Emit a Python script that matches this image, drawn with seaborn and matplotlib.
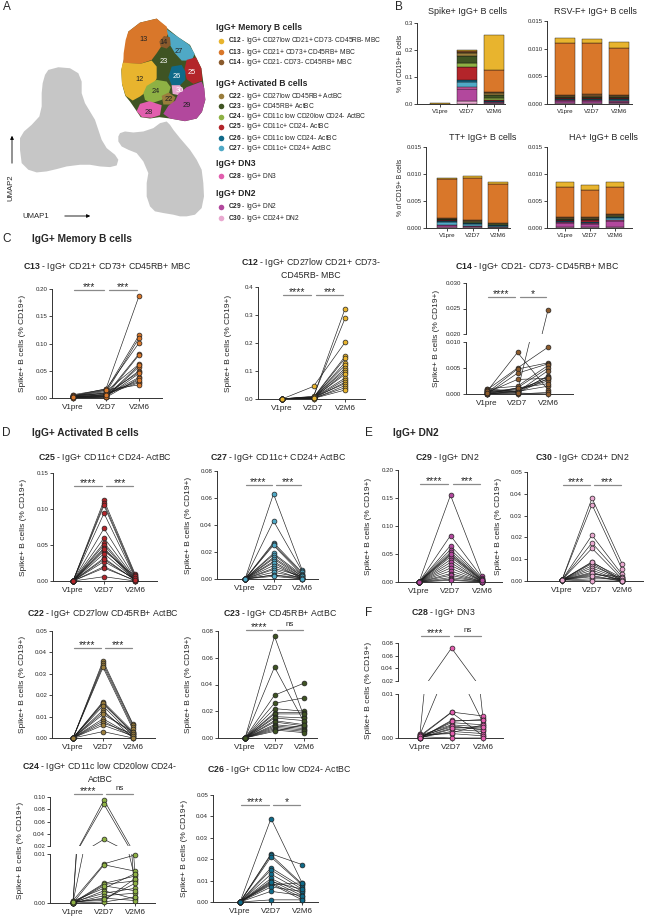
import numpy as np
import pandas as pd
import matplotlib
matplotlib.use("Agg")
import matplotlib.pyplot as plt
import seaborn as sns

W, H = 645, 919

# --- data ---
clusters = ["C12", "C13", "C14", "C22", "C23", "C24", "C25", "C26", "C27", "C28", "C29", "C30"]
cluster_colors = ["#E8B42E", "#D9772A", "#8A5A2C", "#9A7D3C", "#3F5423", "#8EB144",
                  "#B3252A", "#0F6A89", "#4FA9C6", "#E25EAE", "#B2489D", "#E9A9D0"]
cluster_desc = ["IgG+ CD27low CD21+ CD73- CD45RB- MBC", "IgG+ CD21+ CD73+ CD45RB+ MBC",
                "IgG+ CD21- CD73- CD45RB+ MBC", "IgG+ CD27low CD45RB+ ActBC",
                "IgG+ CD45RB+ ActBC", "IgG+ CD11c low CD20low CD24- ActBC",
                "IgG+ CD11c+ CD24- ActBC", "IgG+ CD11c low CD24- ActBC",
                "IgG+ CD11c+ CD24+ ActBC", "IgG+ DN3", "IgG+ DN2", "IgG+ CD24+ DN2"]
groups = ["IgG+ Memory B cells", "IgG+ Activated B cells", "IgG+ DN3", "IgG+ DN2"]
group_members = [["C12", "C13", "C14"], ["C22", "C23", "C24", "C25", "C26", "C27"], ["C28"], ["C29", "C30"]]
timepoints = ["V1pre", "V2D7", "V2M6"]

# stacked bars (% of CD19+), rows follow `clusters`, columns follow `timepoints`
spike_bars = [[0.0002, 0.004, 0.131], [0.0008, 0.005, 0.082], [0.0001, 0.004, 0.004],
              [0.0, 0.012, 0.006], [0.0001, 0.025, 0.012], [0.0001, 0.013, 0.006],
              [0.0, 0.048, 0.004], [0.0, 0.009, 0.004], [0.0001, 0.019, 0.002],
              [0.0002, 0.007, 0.001], [0.0002, 0.045, 0.003], [0.0002, 0.010, 0.002]]
rsv_bars = [[0.0008, 0.0008, 0.0011], [0.0095, 0.0092, 0.0085], [0.0002, 0.0003, 0.0002],
            [0.0001, 0.0002, 0.0001], [0.0002, 0.0002, 0.0002], [0.0001, 0.0001, 0.0001],
            [0.0001, 0.0001, 0.0001], [0.0001, 0.0001, 0.0002], [0.0001, 0.0001, 0.0002],
            [0.0001, 0.0001, 0.0001], [0.0005, 0.0005, 0.0003], [0.0001, 0.0001, 0.0001]]
tt_bars = [[0.0001, 0.0004, 0.0003], [0.0072, 0.0078, 0.0072], [0.0002, 0.0002, 0.0001],
           [0.0001, 0.0001, 0.0001], [0.0001, 0.0001, 0.0001], [0.0001, 0.0001, 0.0001],
           [0.0001, 0.0001, 0.0001], [0.0002, 0.0002, 0.0002], [0.0005, 0.0003, 0.0001],
           [0.0001, 0.0001, 0.0], [0.0004, 0.0002, 0.0001], [0.0001, 0.0001, 0.0001]]
ha_bars = [[0.0009, 0.0009, 0.0009], [0.0056, 0.0051, 0.0050], [0.0002, 0.0002, 0.0002],
           [0.0001, 0.0001, 0.0001], [0.0002, 0.0002, 0.0001], [0.0001, 0.0001, 0.0001],
           [0.0001, 0.0003, 0.0001], [0.0001, 0.0001, 0.0002], [0.0001, 0.0001, 0.0004],
           [0.0001, 0.0001, 0.0001], [0.0009, 0.0007, 0.0012], [0.0001, 0.0001, 0.0001]]

# paired donor values [V1pre, V2D7, V2M6]
c13 = [[0.004, 0.003, 0.002, 0.006, 0.001, 0.002, 0.003, 0.000, 0.001, 0.005, 0.002, 0.001, 0.003, 0.002, 0.004, 0.001, 0.000, 0.002],
       [0.017, 0.014, 0.010, 0.016, 0.006, 0.003, 0.012, 0.002, 0.004, 0.008, 0.005, 0.001, 0.009, 0.007, 0.015, 0.003, 0.002, 0.006],
       [0.187, 0.115, 0.110, 0.101, 0.081, 0.079, 0.062, 0.057, 0.050, 0.047, 0.038, 0.036, 0.030, 0.028, 0.024, 0.060, 0.045, 0.033]]
c12 = [[0.001, 0.0, 0.0, 0.001, 0.0, 0.0, 0.001, 0.0, 0.0, 0.0, 0.001, 0.0, 0.0, 0.0, 0.0, 0.001, 0.0, 0.0],
       [0.008, 0.010, 0.045, 0.006, 0.005, 0.004, 0.007, 0.003, 0.006, 0.002, 0.005, 0.004, 0.003, 0.002, 0.006, 0.001, 0.003, 0.002],
       [0.322, 0.288, 0.202, 0.152, 0.145, 0.130, 0.120, 0.110, 0.102, 0.095, 0.088, 0.075, 0.068, 0.060, 0.055, 0.048, 0.040, 0.032]]
c14 = [[0.001, 0.0005, 0.0008, 0.0002, 0.0, 0.0003, 0.001, 0.0, 0.0002, 0.0005, 0.0, 0.0007, 0.0001, 0.0003, 0.0, 0.0004, 0.0006, 0.0001],
       [0.0005, 0.008, 0.005, 0.0048, 0.004, 0.0028, 0.0015, 0.0012, 0.001, 0.0008, 0.0005, 0.0003, 0.0, 0.0002, 0.0006, 0.0011, 0.0004, 0.0002],
       [0.0247, 0.0008, 0.009, 0.006, 0.0058, 0.003, 0.0055, 0.005, 0.0028, 0.0025, 0.0015, 0.0035, 0.0003, 0.0, 0.0033, 0.002, 0.0045, 0.003]]
c25 = [[0.0, 0.0, 0.0, 0.0, 0.0, 0.0, 0.0, 0.0, 0.0, 0.0, 0.0, 0.0, 0.0, 0.0, 0.0, 0.0, 0.0, 0.0],
       [0.112, 0.108, 0.105, 0.094, 0.073, 0.060, 0.053, 0.050, 0.046, 0.042, 0.038, 0.032, 0.027, 0.020, 0.018, 0.006, 0.044, 0.030],
       [0.010, 0.008, 0.006, 0.005, 0.004, 0.003, 0.002, 0.001, 0.000, 0.007, 0.002, 0.001, 0.003, 0.000, 0.001, 0.000, 0.004, 0.002]]
c27 = [[0.0, 0.0, 0.0, 0.0, 0.0, 0.0, 0.0, 0.0, 0.0, 0.0, 0.0, 0.0, 0.0, 0.0, 0.0, 0.0, 0.0, 0.0],
       [0.063, 0.043, 0.027, 0.026, 0.025, 0.019, 0.018, 0.016, 0.015, 0.013, 0.012, 0.010, 0.008, 0.007, 0.005, 0.003, 0.003, 0.002],
       [0.007, 0.006, 0.005, 0.004, 0.003, 0.003, 0.002, 0.002, 0.001, 0.001, 0.000, 0.001, 0.002, 0.000, 0.001, 0.000, 0.001, 0.000]]
c22 = [[0.0, 0.0, 0.0, 0.0, 0.0, 0.0, 0.0, 0.0, 0.0, 0.0, 0.0, 0.0, 0.0, 0.0, 0.0, 0.0],
       [0.036, 0.035, 0.034, 0.033, 0.017, 0.016, 0.0165, 0.015, 0.013, 0.012, 0.011, 0.009, 0.008, 0.007, 0.006, 0.003],
       [0.0065, 0.006, 0.005, 0.004, 0.003, 0.0025, 0.002, 0.001, 0.000, 0.002, 0.003, 0.001, 0.0005, 0.002, 0.001, 0.000]]
c23 = [[0.0, 0.0, 0.0, 0.0, 0.0, 0.0, 0.0, 0.0, 0.0, 0.0, 0.0, 0.0, 0.0, 0.0, 0.0, 0.0, 0.0],
       [0.076, 0.053, 0.032, 0.026, 0.022, 0.019, 0.018, 0.016, 0.015, 0.013, 0.012, 0.010, 0.009, 0.008, 0.007, 0.006, 0.005],
       [0.016, 0.012, 0.041, 0.030, 0.020, 0.019, 0.018, 0.015, 0.013, 0.010, 0.009, 0.008, 0.007, 0.006, 0.005, 0.004, 0.010]]
c24 = [[0.0003, 0.0, 0.0002, 0.0005, 0.0, 0.0001, 0.0, 0.0004, 0.0, 0.0002, 0.0, 0.0001, 0.0003, 0.0, 0.0, 0.0002],
       [0.095, 0.088, 0.031, 0.008, 0.0078, 0.004, 0.0038, 0.003, 0.0025, 0.002, 0.0015, 0.001, 0.0005, 0.0002, 0.0035, 0.0008],
       [0.006, 0.0012, 0.005, 0.0098, 0.0065, 0.0055, 0.0045, 0.006, 0.0008, 0.003, 0.002, 0.0005, 0.005, 0.0012, 0.0025, 0.004]]
c26 = [[0.0, 0.0, 0.0, 0.0, 0.0, 0.0, 0.0, 0.0, 0.0, 0.0, 0.0, 0.0, 0.0, 0.0, 0.0, 0.0],
       [0.039, 0.0225, 0.022, 0.021, 0.016, 0.015, 0.013, 0.011, 0.010, 0.009, 0.0085, 0.008, 0.007, 0.005, 0.001, 0.0095],
       [0.009, 0.0175, 0.0085, 0.008, 0.007, 0.006, 0.005, 0.004, 0.003, 0.002, 0.001, 0.009, 0.005, 0.003, 0.001, 0.006]]
c29 = [[0.0, 0.0, 0.0, 0.0, 0.0, 0.0, 0.0, 0.0, 0.0, 0.0, 0.0, 0.0, 0.0, 0.0, 0.0, 0.0, 0.0, 0.0],
       [0.155, 0.083, 0.065, 0.058, 0.053, 0.048, 0.045, 0.040, 0.035, 0.030, 0.025, 0.020, 0.015, 0.012, 0.008, 0.005, 0.003, 0.050],
       [0.010, 0.008, 0.006, 0.005, 0.004, 0.003, 0.002, 0.001, 0.000, 0.002, 0.001, 0.000, 0.001, 0.000, 0.001, 0.000, 0.000, 0.003]]
c30 = [[0.0005, 0.0005, 0.0005, 0.0005, 0.0005, 0.0005, 0.0005, 0.0005, 0.0005, 0.0005, 0.0005, 0.0005, 0.0005, 0.0005, 0.0005, 0.0005, 0.0005, 0.0005],
       [0.038, 0.035, 0.021, 0.0175, 0.015, 0.0088, 0.008, 0.007, 0.006, 0.005, 0.004, 0.003, 0.002, 0.001, 0.000, 0.0085, 0.0035, 0.0025],
       [0.008, 0.0055, 0.003, 0.002, 0.001, 0.0005, 0.000, 0.001, 0.0005, 0.000, 0.0, 0.002, 0.000, 0.001, 0.000, 0.0015, 0.0005, 0.000]]
c28 = [[0.001, 0.0008, 0.0005, 0.0003, 0.0, 0.0002, 0.0006, 0.0004, 0.0, 0.0001, 0.0007, 0.0003, 0.0, 0.0002, 0.0005, 0.0001],
       [0.072, 0.018, 0.0059, 0.0058, 0.004, 0.0035, 0.003, 0.0025, 0.002, 0.0015, 0.001, 0.0, 0.0038, 0.0028, 0.0012, 0.0022],
       [0.0045, 0.0035, 0.005, 0.0005, 0.004, 0.003, 0.0025, 0.002, 0.0015, 0.001, 0.0005, 0.0, 0.0042, 0.0018, 0.003, 0.0025]]

# UMAP outlines (UMAP units)
umap_left = [(145, 210), (175, 202), (210, 205), (235, 220), (245, 245), (245, 280), (255, 310), (270, 335),
             (285, 360), (295, 390), (305, 420), (320, 445), (345, 465), (355, 480), (350, 497), (330, 502),
             (300, 500), (270, 495), (240, 495), (200, 500), (170, 508), (140, 515), (110, 518), (85, 510),
             (65, 490), (60, 450), (60, 415), (72, 395), (95, 375), (118, 350), (125, 320), (125, 280),
             (128, 250), (135, 225)]
umap_right = [(360, 400), (375, 395), (400, 398), (430, 395), (460, 385), (480, 370), (500, 365), (510, 375),
              (520, 390), (540, 415), (570, 450), (590, 480), (605, 510), (610, 550), (612, 590), (605, 625),
              (585, 645), (560, 650), (540, 650), (520, 645), (490, 640), (465, 635), (450, 620), (440, 590),
              (440, 550), (445, 520), (430, 485), (410, 460), (385, 450), (365, 440), (355, 425), (355, 410)]
umap_cap = [(385, 95), (420, 68), (470, 56), (505, 88), (535, 112), (570, 135), (588, 172), (604, 205),
            (612, 262), (616, 300), (606, 336), (590, 356), (555, 364), (510, 356), (478, 352), (450, 356),
            (422, 352), (410, 334), (390, 305), (376, 288), (366, 252), (364, 210), (372, 178), (376, 140)]
umap_clusters = {
    "C13": [(385, 95), (420, 68), (470, 56), (500, 80), (505, 100), (490, 130), (470, 160), (455, 180),
            (420, 192), (370, 190), (371, 160), (377, 120)],
    "C27": [(500, 88), (535, 112), (568, 135), (584, 162), (575, 182), (545, 182), (525, 160), (510, 135), (505, 110)],
    "C14": [(478, 125), (492, 108), (510, 112), (512, 135), (500, 146), (482, 140)],
    "C12": [(368, 188), (420, 192), (455, 182), (470, 200), (470, 235), (460, 258), (440, 275), (420, 290),
            (398, 302), (377, 288), (366, 252), (364, 210)],
    "C25": [(560, 180), (588, 172), (604, 205), (607, 242), (580, 252), (560, 238), (553, 210)],
    "C26": [(515, 200), (545, 195), (556, 215), (556, 240), (538, 258), (515, 256), (505, 232)],
    "C24": [(440, 258), (470, 240), (500, 245), (512, 262), (505, 285), (485, 300), (455, 310), (435, 300), (430, 280)],
    "C30": [(515, 256), (540, 256), (550, 270), (536, 286), (518, 282)],
    "C22": [(485, 288), (506, 278), (526, 292), (518, 314), (490, 314)],
    "C29": [(535, 282), (560, 262), (605, 245), (613, 265), (616, 300), (606, 336), (590, 356), (555, 364),
            (510, 356), (490, 342), (505, 318), (526, 302)],
    "C28": [(420, 312), (448, 304), (485, 316), (480, 346), (455, 354), (426, 352), (410, 334)],
}
umap_labels = {"C13": (432, 118), "C14": (492, 127), "C27": (537, 155), "C23": (492, 185), "C25": (575, 218),
               "C12": (418, 238), "C26": (530, 230), "C24": (468, 275), "C30": (538, 272), "C22": (505, 300),
               "C29": (560, 318), "C28": (447, 337)}
umap_label_white = ["C23", "C25", "C26", "C30"]

# --- style ---
sns.set_style("ticks")
plt.rcParams["font.family"] = ["Liberation Sans", "DejaVu Sans"]
plt.rcParams["mathtext.fontset"] = "custom"
plt.rcParams["mathtext.rm"] = "Liberation Sans"
plt.rcParams["mathtext.bf"] = "Liberation Sans:bold"
plt.rcParams["axes.linewidth"] = 0.7
plt.rcParams["axes.edgecolor"] = "#333333"
palette = dict(zip(clusters, cluster_colors))

fig = plt.figure(figsize=(W / 100, H / 100), dpi=100)
ov = fig.add_axes([0, 0, 1, 1])
ov.set_xlim(0, W)
ov.set_ylim(H, 0)
ov.axis("off")
ov.set_zorder(10)


def px_axes(left, top, right, bottom):
    return fig.add_axes([left / W, 1 - bottom / H, (right - left) / W, (bottom - top) / H])


def bold_title(name, desc):
    return r"$\mathbf{" + name + "}$ - " + desc


# --- A: UMAP ---
ax_u = px_axes(0, 0, 220, 233)
ax_u.set_xlim(0, 660)
ax_u.set_ylim(700, 0)
ax_u.axis("off")
for shape in [umap_left, umap_right]:
    xs, ys = zip(*shape)
    ax_u.fill(xs, ys, color="#C6C6C6", lw=0)
xs, ys = zip(*umap_cap)
ax_u.fill(xs, ys, color=palette["C23"], lw=0)
for name, shape in umap_clusters.items():
    xs, ys = zip(*shape)
    ax_u.fill(xs, ys, color=palette[name], lw=0)
for name, (x, y) in umap_labels.items():
    ax_u.text(x, y, name[1:], ha="center", va="center", fontsize=5.3,
              color="white" if name in umap_label_white else "#222222")

ov.annotate("", xy=(12, 133), xytext=(12, 166),
            arrowprops=dict(arrowstyle="-|>", lw=0.6, color="black", mutation_scale=5))
ov.text(11, 188, "UMAP2", rotation=90, ha="center", va="center", fontsize=5.6)
ov.annotate("", xy=(93, 216), xytext=(62, 216),
            arrowprops=dict(arrowstyle="-|>", lw=0.6, color="black", mutation_scale=5))
ov.text(22, 216, "UMAP1", ha="left", va="center", fontsize=5.6)

# legend
header_y = [28, 83, 164, 194]
item_y = {"C12": 41, "C13": 52, "C14": 62, "C22": 96, "C23": 106, "C24": 117, "C25": 127,
          "C26": 138, "C27": 148, "C28": 176, "C29": 207, "C30": 218}
for g, gy, members in zip(groups, header_y, group_members):
    ov.text(216, gy, g, fontsize=6.2, fontweight="bold", va="center")
    for m in members:
        i = clusters.index(m)
        ov.scatter([221], [item_y[m]], s=16, color=cluster_colors[i], lw=0)
        ov.text(228, item_y[m], bold_title(m, cluster_desc[i]), fontsize=4.8, va="center")


# --- B: stacked bars ---
def bar_panel(rows, box, title, title_xy, ticks, decimals, ylabel_x=None):
    left, right, top, bottom, x0, x2 = box
    step = (x2 - x0) / 2
    ax = px_axes(left, top, right, bottom)
    df = pd.DataFrame([(c, t, rows[i][t]) for i, c in enumerate(clusters) for t in range(3)],
                      columns=["cluster", "t", "value"])
    sns.histplot(data=df, x="t", weights="value", hue="cluster", hue_order=clusters, palette=palette,
                 multiple="stack", discrete=True, shrink=0.75, alpha=1, edgecolor="#111111",
                 linewidth=0.3, legend=False, ax=ax)
    ax.set_xlim(-(x0 - left) / step, 2 + (right - x2) / step)
    ax.set_ylim(ticks[0], ticks[-1])
    ax.set_yticks(ticks, [f"{t:.{decimals}f}" for t in ticks])
    ax.set_xticks([0, 1, 2], timepoints)
    ax.tick_params(axis="y", labelsize=4.3, length=2, width=0.6, pad=1)
    ax.tick_params(axis="x", labelsize=4.5, length=2, width=0.6, pad=1.5)
    ax.set_xlabel("")
    ax.set_ylabel("")
    sns.despine(ax=ax)
    ov.text(title_xy[0], title_xy[1], title, ha="center", va="center", fontsize=6.5)
    if ylabel_x is not None:
        ov.text(ylabel_x, (top + bottom) / 2, "% of CD19+ B cells", rotation=90,
                ha="center", va="center", fontsize=4.8)


bar_panel(spike_bars, (417, 505, 23, 104, 440, 494), "Spike+ IgG+ B cells", (467, 11),
          [0.0, 0.1, 0.2, 0.3], 1, ylabel_x=400)
bar_panel(rsv_bars, (547, 632, 21, 104, 565, 619), "RSV-F+ IgG+ B cells", (595, 11),
          [0.0, 0.005, 0.010, 0.015], 3)
bar_panel(tt_bars, (426, 510, 147, 228, 447, 498), "TT+ IgG+ B cells", (483, 137),
          [0.0, 0.005, 0.010, 0.015], 3, ylabel_x=401)
bar_panel(ha_bars, (547, 632, 147, 228, 565, 615), "HA+ IgG+ B cells", (603, 137),
          [0.0, 0.005, 0.010, 0.015], 3)


# --- C-F: paired donor plots ---
def paired_panel(vals, name, title_xy, box, ticks, decimals, sig, sig_y, brk=None, title_lines=None):
    left, right, top, bottom, x0, x2 = box
    step = (x2 - x0) / 2
    i = clusters.index(name)
    color = cluster_colors[i]
    n = len(vals[0])
    df = pd.DataFrame({"donor": np.tile(np.arange(n), 3),
                       "t": np.repeat([0, 1, 2], n),
                       "value": np.concatenate(vals)})
    if brk is None:
        parts = [(top, bottom, ticks)]
    else:
        hi_bottom, lo_top, hi_ticks = brk
        parts = [(top, hi_bottom, hi_ticks), (lo_top, bottom, ticks)]
    for k, (ptop, pbot, pticks) in enumerate(parts):
        ax = px_axes(left, ptop, right, pbot)
        lo, hi = pticks[0], pticks[-1]
        sns.lineplot(data=df, x="t", y="value", units="donor", estimator=None, color="#1c1c1c",
                     lw=0.45, ax=ax, legend=False)
        inside = df[(df["value"] >= lo - 1e-9) & (df["value"] <= hi + 1e-9)]
        sns.scatterplot(data=inside, x="t", y="value", color=color, edgecolor="#222222", linewidth=0.5,
                        s=12, ax=ax, legend=False, clip_on=False, zorder=3)
        ax.set_xlim(-(x0 - left) / step, 2 + (right - x2) / step)
        ax.set_ylim(lo, hi)
        ax.set_yticks(pticks, [f"{t:.{decimals}f}" for t in pticks])
        ax.tick_params(axis="y", labelsize=4.4, length=2.5, width=0.6, pad=1)
        ax.tick_params(axis="x", labelsize=5.9, length=2.5, width=0.6, pad=1.5)
        ax.set_xlabel("")
        ax.set_ylabel("")
        sns.despine(ax=ax)
        if k == len(parts) - 1:
            ax.set_xticks([0, 1, 2], timepoints)
        else:
            ax.set_xticks([])
            ax.spines["bottom"].set_visible(False)
    ov.text(left - 29, (top + bottom) / 2, "Spike+ B cells (% CD19+)", rotation=90,
            ha="center", va="center", fontsize=6)
    desc = cluster_desc[i] if title_lines is None else title_lines
    ov.text(title_xy[0], title_xy[1], bold_title(name, desc), ha="center", va="center",
            fontsize=6.3, multialignment="center")
    for (label, a, b) in sig:
        xa, xb = x0 + a * step, x0 + b * step
        ov.plot([xa, xb], [sig_y, sig_y], color="#8a8a8a", lw=0.9)
        if label == "ns":
            ov.text((xa + xb) / 2, sig_y - 1.5, label, ha="center", va="bottom", fontsize=5.8)
        else:
            ov.text((xa + xb) / 2, sig_y + 2.5, label, ha="center", va="bottom", fontsize=7.5)


def sig_pair(s1, s2):
    return [(s1, 0.02, 0.93), (s2, 1.08, 1.95)]


# section headers
ov.text(3, 7, "A", fontsize=8.5, va="center")
ov.text(395, 7, "B", fontsize=8.5, va="center")
ov.text(2, 239, "C", fontsize=8.5, va="center")
ov.text(32, 239, "IgG+ Memory B cells", fontsize=7.3, fontweight="bold", va="center")
ov.text(2, 433, "D", fontsize=8.5, va="center")
ov.text(32, 433, "IgG+ Activated B cells", fontsize=7.3, fontweight="bold", va="center")
ov.text(365, 433, "E", fontsize=8.5, va="center")
ov.text(393, 433, "IgG+ DN2", fontsize=7.3, fontweight="bold", va="center")
ov.text(365, 613, "F", fontsize=8.5, va="center")

paired_panel(c13, "C13", (107, 267), (52, 162, 289, 398, 73, 139), [0.0, 0.05, 0.10, 0.15, 0.20], 2,
             sig_pair("***", "***"), 290)
paired_panel(c12, "C12", (311, 268), (258, 365, 287, 399, 282, 345), [0.0, 0.1, 0.2, 0.3, 0.4], 1,
             sig_pair("****", "***"), 295, title_lines="IgG+ CD27low CD21+ CD73-\nCD45RB- MBC")
paired_panel(c14, "C14", (537, 267), (466, 573, 283, 394, 487, 548), [0.0, 0.005, 0.010], 3,
             sig_pair("****", "*"), 297, brk=(334, 342, [0.020, 0.025, 0.030]))
paired_panel(c25, "C25", (105, 458), (53, 157, 473, 581, 73, 135), [0.0, 0.05, 0.10, 0.15], 2,
             sig_pair("****", "***"), 486)
paired_panel(c27, "C27", (278, 458), (217, 318, 471, 579, 245, 302), [0.0, 0.02, 0.04, 0.06, 0.08], 2,
             sig_pair("****", "***"), 485)
paired_panel(c29, "C29", (447, 458), (398, 502, 470, 582, 419, 482), [0.0, 0.05, 0.10, 0.15, 0.20], 2,
             sig_pair("****", "***"), 484)
paired_panel(c30, "C30", (582, 458), (527, 643, 472, 581, 562, 622), [0.0, 0.01, 0.02, 0.03, 0.04, 0.05], 2,
             sig_pair("****", "***"), 485)
paired_panel(c22, "C22", (103, 614), (52, 155, 631, 738, 73, 133), [0.0, 0.01, 0.02, 0.03, 0.04, 0.05], 2,
             sig_pair("****", "***"), 648)
paired_panel(c23, "C23", (280, 613), (218, 317, 631, 738, 245, 304), [0.0, 0.02, 0.04, 0.06, 0.08], 2,
             sig_pair("****", "ns"), 630)
paired_panel(c28, "C28", (443, 613), (398, 503, 643, 738, 420, 483), [0.0, 0.01], 2,
             sig_pair("****", "ns"), 636, brk=(681, 694, [0.02, 0.04, 0.06, 0.08]))
paired_panel(c24, "C24", (100, 772), (50, 155, 797, 903, 73, 135), [0.0, 0.01], 2,
             sig_pair("****", "ns"), 794, brk=(846, 854, [0.02, 0.04, 0.06, 0.08, 0.10]),
             title_lines="IgG+ CD11c low CD20low CD24-\nActBC")
paired_panel(c26, "C26", (279, 769), (213, 318, 795, 902, 240, 302), [0.0, 0.01, 0.02, 0.03, 0.04, 0.05], 2,
             sig_pair("****", "*"), 805)

fig.savefig("out.png", dpi=100)
